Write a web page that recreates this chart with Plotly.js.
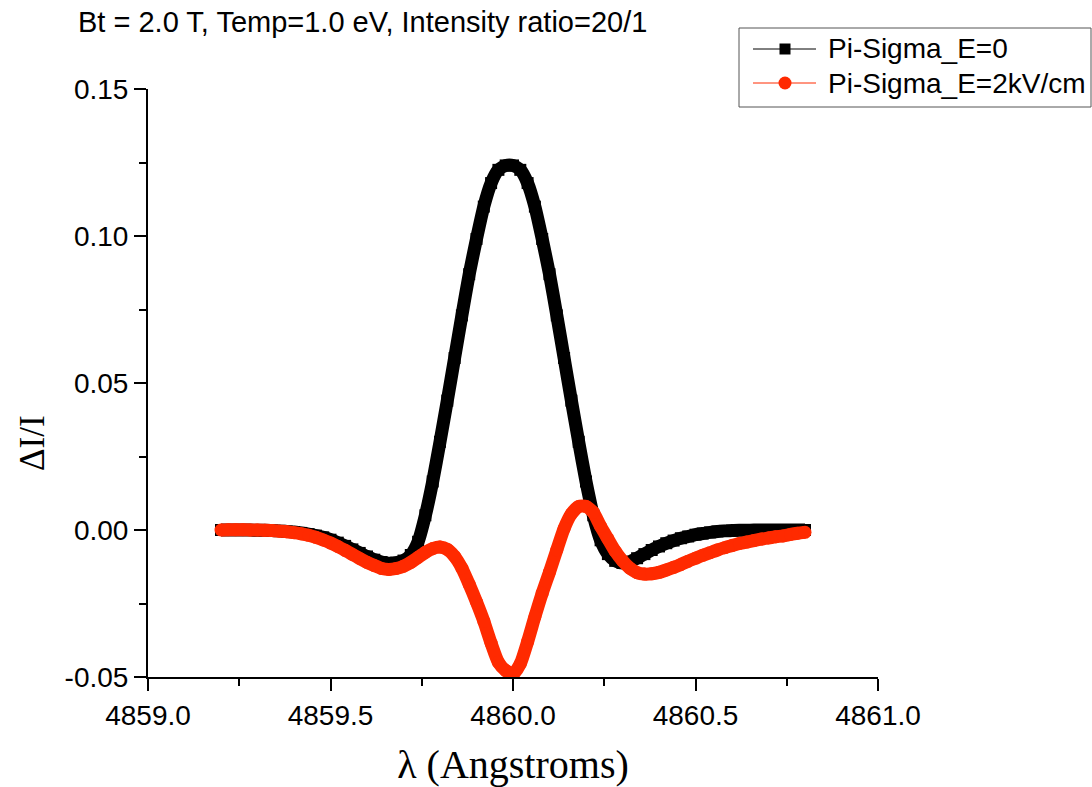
<!DOCTYPE html>
<html>
<head>
<meta charset="utf-8">
<script src="https://cdn.plot.ly/plotly-3.0.1.min.js"></script>
<style>
  html, body { margin: 0; padding: 0; background: #fff; }
  #chart { width: 1092px; height: 787px; }
</style>
</head>
<body>
<div id="chart"></div>
<script>
// Wavelength samples (Angstroms)
const wavelength = [
  4859.20, 4859.22, 4859.24, 4859.26, 4859.28, 4859.30, 4859.32, 4859.34, 4859.36, 4859.38,
  4859.40, 4859.42, 4859.44, 4859.46, 4859.48, 4859.50, 4859.52, 4859.54, 4859.56, 4859.58,
  4859.60, 4859.62, 4859.64, 4859.66, 4859.68, 4859.70, 4859.72, 4859.74, 4859.76, 4859.78,
  4859.80, 4859.82, 4859.84, 4859.86, 4859.88, 4859.90, 4859.92, 4859.94, 4859.96, 4859.98,
  4860.00, 4860.02, 4860.04, 4860.06, 4860.08, 4860.10, 4860.12, 4860.14, 4860.16, 4860.18,
  4860.20, 4860.22, 4860.24, 4860.26, 4860.28, 4860.30, 4860.32, 4860.34, 4860.36, 4860.38,
  4860.40, 4860.42, 4860.44, 4860.46, 4860.48, 4860.50, 4860.52, 4860.54, 4860.56, 4860.58,
  4860.60, 4860.62, 4860.64, 4860.66, 4860.68, 4860.70, 4860.72, 4860.74, 4860.76, 4860.78,
  4860.80
];

// Pi-Sigma difference, no electric field
const piSigmaE0 = [
   0.0000,  0.0000,  0.0000,  0.0000,  0.0000, -0.0001, -0.0001, -0.0002, -0.0003, -0.0005,
  -0.0007, -0.0010, -0.0014, -0.0019, -0.0025, -0.0033, -0.0043, -0.0054, -0.0066, -0.0078,
  -0.0090, -0.0101, -0.0109, -0.0113, -0.0111, -0.0104, -0.0085, -0.0040,  0.0050,  0.0165,
   0.0300,  0.0440,  0.0585,  0.0730,  0.0870,  0.0990,  0.1100,  0.1180,  0.1225,  0.1240,
   0.1240,  0.1225,  0.1180,  0.1100,  0.0990,  0.0870,  0.0730,  0.0585,  0.0440,  0.0300,
   0.0165,  0.0050, -0.0035, -0.0082, -0.0105, -0.0112, -0.0108, -0.0096, -0.0082, -0.0068,
  -0.0056, -0.0045, -0.0036, -0.0028, -0.0022, -0.0016, -0.0012, -0.0008, -0.0005, -0.0003,
  -0.0002, -0.0001, -0.0001,  0.0000,  0.0000,  0.0000,  0.0000,  0.0000,  0.0000,  0.0000,
   0.0000
];

// Pi-Sigma difference, E = 2 kV/cm
const piSigmaE2 = [
   0.0000,  0.0001,  0.0001,  0.0001,  0.0000,  0.0000, -0.0001, -0.0002, -0.0004, -0.0006,
  -0.0009, -0.0013, -0.0018, -0.0025, -0.0034, -0.0044, -0.0056, -0.0069, -0.0083, -0.0097,
  -0.0110, -0.0121, -0.0131, -0.0134, -0.0131, -0.0123, -0.0110, -0.0093, -0.0076, -0.0063,
  -0.0058, -0.0066, -0.0090, -0.0130, -0.0185, -0.0245, -0.0310, -0.0385, -0.0450, -0.0478,
  -0.0490, -0.0455, -0.0380, -0.0295, -0.0215, -0.0143, -0.0068,  0.0005,  0.0055,  0.0080,
   0.0080,  0.0060,  0.0012, -0.0030, -0.0072, -0.0105, -0.0130, -0.0145, -0.0150, -0.0149,
  -0.0144, -0.0136, -0.0127, -0.0117, -0.0106, -0.0096, -0.0086, -0.0077, -0.0068, -0.0060,
  -0.0053, -0.0046, -0.0041, -0.0036, -0.0031, -0.0027, -0.0023, -0.0020, -0.0015, -0.0011,
  -0.0008
];

const seriesNames = ['Pi-Sigma_E=0', 'Pi-Sigma_E=2kV/cm'];
const xTickVals = [4859.0, 4859.5, 4860.0, 4860.5, 4861.0];
const xTickText = ['4859.0', '4859.5', '4860.0', '4860.5', '4861.0'];
const yTickVals = [-0.05, 0.00, 0.05, 0.10, 0.15];
const yTickText = ['-0.05', '0.00', '0.05', '0.10', '0.15'];
const chartTitle = 'Bt = 2.0 T, Temp=1.0 eV, Intensity ratio=20/1';
const xTitle = 'λ (Angstroms)';
const yTitle = 'ΔI/I';

const BLACK = '#000000';
const RED = '#ff2a00';
const SANS = 'Liberation Sans, Arial, sans-serif';
const SERIF = 'Liberation Serif, Times New Roman, serif';

// page geometry of the plotting area
const W = 1092, H = 787;
const M = { l: 148, r: 214, t: 89, b: 110 };
const plotW = W - M.l - M.r, plotH = H - M.t - M.b;
const px = v => (v - M.l) / plotW;          // page x -> paper x
const py = v => (H - M.b - v) / plotH;      // page y -> paper y

const traces = [
  {
    x: wavelength, y: piSigmaE0, type: 'scatter', mode: 'lines+markers',
    name: seriesNames[0], showlegend: false,
    line: { color: BLACK, width: 13, shape: 'spline', smoothing: 0.6 },
    marker: { symbol: 'square', size: 12, color: BLACK }
  },
  {
    x: wavelength, y: piSigmaE2, type: 'scatter', mode: 'lines+markers',
    name: seriesNames[1], showlegend: false,
    line: { color: RED, width: 13, shape: 'spline', smoothing: 0.6 },
    marker: { symbol: 'circle', size: 13, color: RED }
  }
];

// legend box drawn in paper coordinates
const legendRows = [
  { name: seriesNames[0], color: BLACK, kind: 'rect', half: 5.5, y: 49 },
  { name: seriesNames[1], color: RED, kind: 'circle', half: 6.5, y: 83 }
];
const shapes = [
  { type: 'rect', xref: 'paper', yref: 'paper',
    x0: px(739), x1: px(1091), y0: py(28), y1: py(107),
    line: { color: '#555555', width: 1 }, fillcolor: '#ffffff', layer: 'above' }
];
const annotations = [];
legendRows.forEach(r => {
  shapes.push({ type: 'line', xref: 'paper', yref: 'paper',
    x0: px(753), x1: px(816), y0: py(r.y), y1: py(r.y),
    line: { color: r.color, width: 1 }, layer: 'above' });
  shapes.push({ type: r.kind, xref: 'paper', yref: 'paper',
    x0: px(785 - r.half), x1: px(785 + r.half), y0: py(r.y + r.half), y1: py(r.y - r.half),
    line: { color: r.color, width: 0 }, fillcolor: r.color, layer: 'above' });
  annotations.push({ xref: 'paper', yref: 'paper', x: px(826), y: py(r.y),
    xanchor: 'left', yanchor: 'middle', showarrow: false, text: r.name,
    font: { family: SANS, size: 28, color: BLACK } });
});
annotations.push({ xref: 'paper', yref: 'paper', x: px(32), y: py(443),
  xanchor: 'center', yanchor: 'middle', showarrow: false, textangle: -90,
  text: yTitle, font: { family: SERIF, size: 35, color: BLACK } });

const axisCommon = {
  showline: true, linecolor: BLACK, linewidth: 2,
  showgrid: false, zeroline: false, mirror: false,
  ticks: 'outside', ticklen: 12, tickwidth: 2, tickcolor: BLACK,
  tickfont: { family: SANS, size: 28, color: BLACK },
  tickmode: 'array'
};

const layout = {
  width: W, height: H,
  margin: { l: M.l, r: M.r, t: M.t, b: M.b, autoexpand: false },
  paper_bgcolor: '#ffffff', plot_bgcolor: '#ffffff',
  showlegend: false,
  title: {
    text: chartTitle,
    font: { family: SANS, size: 29, color: BLACK },
    xref: 'container', yref: 'container',
    x: 78 / W, xanchor: 'left',
    y: 1 - 22 / H, yanchor: 'middle'
  },
  xaxis: Object.assign({}, axisCommon, {
    range: [4859.0, 4861.0],
    tickvals: xTickVals, ticktext: xTickText,
    minor: { dtick: 0.25, tick0: 4859.0, ticks: 'outside', ticklen: 7, tickwidth: 2, tickcolor: BLACK },
    title: { text: xTitle, font: { family: SERIF, size: 40, color: BLACK }, standoff: 22 }
  }),
  yaxis: Object.assign({}, axisCommon, {
    range: [-0.05, 0.15],
    tickvals: yTickVals, ticktext: yTickText,
    minor: { dtick: 0.025, tick0: 0, ticks: 'outside', ticklen: 7, tickwidth: 2, tickcolor: BLACK }
  }),
  shapes: shapes,
  annotations: annotations
};

Plotly.newPlot('chart', traces, layout, { displayModeBar: false, staticPlot: true });
</script>
</body>
</html>
